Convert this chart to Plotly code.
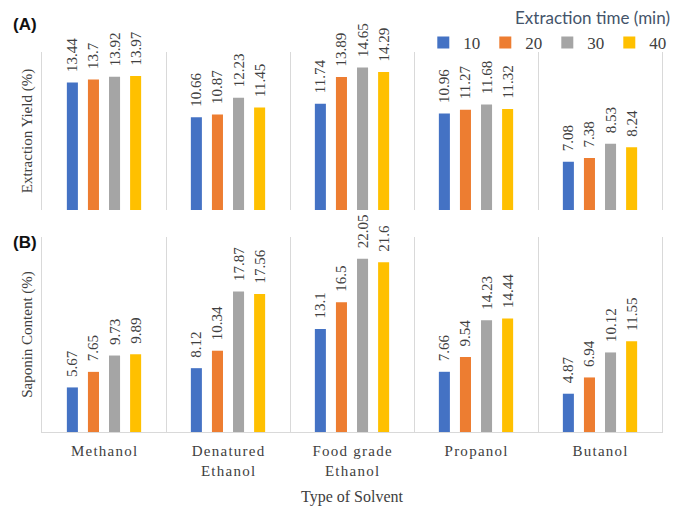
import plotly.graph_objects as go

categories = ["Methanol", "Denatured<br>Ethanol", "Food grade<br>Ethanol", "Propanol", "Butanol"]
times = ["10", "20", "30", "40"]
colors = ["#4472C4", "#ED7D31", "#A5A5A5", "#FFC000"]

# Extraction yield (%) by extraction time
yield_10 = [13.44, 10.66, 11.74, 10.96, 7.08]
yield_20 = [13.7, 10.87, 13.89, 11.27, 7.38]
yield_30 = [13.92, 12.23, 14.65, 11.68, 8.53]
yield_40 = [13.97, 11.45, 14.29, 11.32, 8.24]

# Saponin content (%) by extraction time
sap_10 = [5.67, 8.12, 13.1, 7.66, 4.87]
sap_20 = [7.65, 10.34, 16.5, 9.54, 6.94]
sap_30 = [9.73, 17.87, 22.05, 14.23, 10.12]
sap_40 = [9.89, 17.56, 21.6, 14.44, 11.55]

yields = [yield_10, yield_20, yield_30, yield_40]
saps = [sap_10, sap_20, sap_30, sap_40]


def spaced(label):
    # letter-spaced tick text (hair spaces between characters)
    return "<br>".join("\u200a".join(part) for part in label.split("<br>"))


tick_text = [spaced(c) for c in categories]

SERIF = "Liberation Serif, Times New Roman, serif"
label_font = dict(family=SERIF, size=15, color="#404040")

fig = go.Figure()
pad = "\u00a0\u00a0"
for i, t in enumerate(times):
    fig.add_trace(go.Bar(
        x=categories, y=yields[i], name=t, legendgroup=t,
        marker=dict(color=colors[i], line=dict(width=0)),
        text=[pad + str(v) for v in yields[i]], textposition="outside",
        textangle=-90, textfont=label_font, cliponaxis=False,
        constraintext="none", xaxis="x", yaxis="y", showlegend=True,
    ))
for i, t in enumerate(times):
    fig.add_trace(go.Bar(
        x=categories, y=saps[i], name=t, legendgroup=t,
        marker=dict(color=colors[i], line=dict(width=0)),
        text=[pad + str(v) for v in saps[i]], textposition="outside",
        textangle=-90, textfont=label_font, cliponaxis=False,
        constraintext="none", xaxis="x2", yaxis="y2", showlegend=False,
    ))

grid = "#D9D9D9"
fig.update_layout(
    width=674, height=506,
    margin=dict(l=42, r=12, t=52, b=74, autoexpand=False),
    paper_bgcolor="white", plot_bgcolor="white",
    barmode="group", bargap=0.32, bargroupgap=0.476,
    font=dict(family=SERIF, color="#404040"),
    xaxis=dict(domain=[0, 1], anchor="y", matches="x2", type="category",
               tickson="boundaries", showgrid=True, gridcolor=grid, gridwidth=1,
               showticklabels=False, ticks="", showline=False, zeroline=False),
    yaxis=dict(domain=[0.584, 1.0], anchor="x", range=[3.2, 15.9],
               showgrid=False, showticklabels=False, ticks="", zeroline=False,
               showline=True, linecolor=grid, mirror=True,
               title=dict(text="Extraction Yield (%)", font=dict(family=SERIF, size=15, color="#404040"), standoff=4)),
    xaxis2=dict(domain=[0, 1], anchor="y2", type="category",
                tickmode="array", tickvals=categories, ticktext=tick_text,
                tickson="boundaries", showgrid=True, gridcolor=grid, gridwidth=1,
                ticks="", showline=True, linecolor=grid, zeroline=False,
                tickfont=dict(family=SERIF, size=15, color="#404040"),
                ticklabelstandoff=5,
                title=dict(text="Type of Solvent", font=dict(family=SERIF, size=16, color="#404040"), standoff=25)),
    yaxis2=dict(domain=[0.0, 0.513], anchor="x2", range=[0, 24.8],
                showgrid=False, showticklabels=False, ticks="", zeroline=False,
                showline=True, linecolor=grid, mirror=True,
                title=dict(text="Saponin Content (%)", font=dict(family=SERIF, size=15, color="#404040"), standoff=4)),
    legend=dict(orientation="h", x=1.015, xanchor="right", y=1.024, yanchor="middle",
                font=dict(family=SERIF, size=17, color="#404040"),
                traceorder="normal", bgcolor="rgba(0,0,0,0)"),
    annotations=[
        dict(text="Extraction time (min)", xref="paper", yref="paper", x=1.016, y=1.092,
             xanchor="right", yanchor="middle", showarrow=False,
             font=dict(family="Lato, Open Sans, sans-serif", size=17, color="#44546A")),
        dict(text="<b>(A)</b>", xref="paper", yref="paper", x=-0.05, y=1.073,
             xanchor="left", yanchor="middle", showarrow=False,
             font=dict(family="Liberation Sans, Arial, sans-serif", size=17, color="#111111")),
        dict(text="<b>(B)</b>", xref="paper", yref="paper", x=-0.05, y=0.50,
             xanchor="left", yanchor="middle", showarrow=False,
             font=dict(family="Liberation Sans, Arial, sans-serif", size=17, color="#111111")),
    ],
)

fig.write_html("out.html")
